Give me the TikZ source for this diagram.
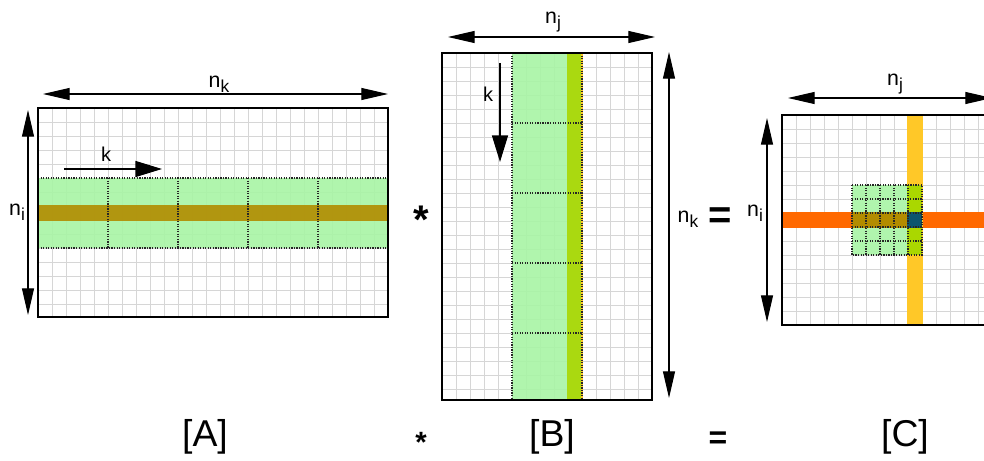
\documentclass[tikz,border=0pt]{standalone}
\usepackage{fontspec}
\setmainfont{Liberation Sans}
\usetikzlibrary{arrows.meta}
\definecolor{lgreen}{RGB}{168,245,165}
\definecolor{brn}{RGB}{178,140,0}
\definecolor{ygreen}{RGB}{170,215,0}
\definecolor{orng}{RGB}{255,105,0}
\definecolor{yllw}{RGB}{255,200,40}
\definecolor{tealc}{RGB}{10,85,110}
\newcommand\nsub[1]{n\raisebox{-0.45ex}{\fontsize{13}{14}\selectfont #1}}
\tikzset{
 dimarrow/.style={line width=0.8pt, {Triangle[length=20pt,width=9pt]}-{Triangle[length=20pt,width=9pt]}},
 karrow/.style={line width=1.1pt, -{Triangle[length=20pt,width=12pt]}},
 gridl/.style={black!16, line width=0.6pt},
 bandfill/.style={fill opacity=0.9},
 blocksep/.style={black!85, densely dotted, line width=0.9pt},
 frame/.style={draw=black, line width=2pt},
 lbl/.style={font=\fontsize{16}{18}\selectfont, inner sep=0pt},
 klbl/.style={font=\fontsize{15}{17}\selectfont, inner sep=0pt},
 big/.style={font=\fontsize{28}{32}\selectfont, inner sep=0pt},
}
\begin{document}
\begin{tikzpicture}[x=0.75pt,y=-0.75pt]
\useasboundingbox (0,0) rectangle (984,460);
\clip (0,0) rectangle (984,460);
\fill[white] (0,0) rectangle (984,460);
% ================= A =================
\foreach \x in {52,66,...,374} \draw[gridl] (\x,108) -- (\x,317);
\foreach \y in {122,136,...,304} \draw[gridl] (38,\y) -- (388,\y);
\fill[lgreen,bandfill] (38,178) rectangle (388,248);
\fill[brn,bandfill] (38,205) rectangle (388,221);
\foreach \x in {108,178,248,318} \draw[blocksep] (\x,178) -- (\x,248);
\draw[blocksep] (38,178) -- (388,178);
\draw[blocksep] (38,248) -- (388,248);
\draw[frame] (38,108) rectangle (388,317);
\coordinate (aK1) at (43,94); \coordinate (aK2) at (388,94);
\draw[dimarrow] (aK1) -- (aK2);
\node[lbl] (ank) at (219,84) {\nsub{k}};
\coordinate (aI1) at (28,110); \coordinate (aI2) at (28,315);
\draw[dimarrow] (aI1) -- (aI2);
\node[lbl] (ani) at (17,212) {\nsub{i}};
\coordinate (ak1) at (64,169); \coordinate (ak2) at (162,169);
\draw[karrow] (ak1) -- (ak2);
\node[klbl] (akl) at (106,154) {k};
\node[font=\fontsize{30}{34}\selectfont\bfseries, inner sep=0pt] (star1) at (421,220) {*};
% ================= B =================
\foreach \x in {456,470,...,638} \draw[gridl] (\x,53) -- (\x,400);
\foreach \y in {67,81,...,390} \draw[gridl] (442,\y) -- (652,\y);
\fill[lgreen,bandfill] (512,53) rectangle (582,400);
\fill[ygreen,bandfill] (567,53) rectangle (582,400);
\draw[yllw, line width=1pt] (582,53) -- (582,400);
\foreach \y in {123,193,263,333} \draw[blocksep] (512,\y) -- (582,\y);
\draw[blocksep] (512,53) -- (512,400);
\draw[blocksep] (582,53) -- (582,400);
\draw[frame] (442,53) rectangle (652,400);
\coordinate (bJ1) at (448,37); \coordinate (bJ2) at (655,37);
\draw[dimarrow] (bJ1) -- (bJ2);
\node[lbl] (bnj) at (553,22) {\nsub{j}};
\coordinate (bk1) at (500,63); \coordinate (bk2) at (500,162);
\draw[karrow] (bk1) -- (bk2);
\node[klbl] (bkl) at (488,94) {k};
\coordinate (bK1) at (669,52); \coordinate (bK2) at (669,398);
\draw[dimarrow] (bK1) -- (bK2);
\node[lbl] (bnk) at (688,219) {\nsub{k}};
\node[font=\fontsize{30}{34}\selectfont\bfseries, inner sep=0pt] (eq1) at (720,218) {=};
% ================= C =================
\foreach \x in {796,810,...,978} \draw[gridl] (\x,115) -- (\x,325);
\foreach \y in {129,143,...,315} \draw[gridl] (782,\y) -- (992,\y);
\fill[orng] (782,212) rectangle (992,228);
\fill[yllw] (907,115) rectangle (923,325);
\fill[lgreen,bandfill] (852,185) rectangle (922,255);
\fill[brn] (852,212) rectangle (907,228);
\fill[ygreen] (907,185) rectangle (922,255);
\fill[tealc] (907,212) rectangle (922,228);
\foreach \x in {866,880,894,908} \draw[blocksep] (\x,185) -- (\x,255);
\foreach \y in {199,213,227,241} \draw[blocksep] (852,\y) -- (922,\y);
\draw[blocksep] (852,185) rectangle (922,255);
\draw[frame] (782,115) rectangle (992,325);
\coordinate (cJ1) at (788,98); \coordinate (cJ2) at (992,98);
\draw[dimarrow] (cJ1) -- (cJ2);
\node[lbl] (cnj) at (895,84) {\nsub{j}};
\coordinate (cI1) at (767,118); \coordinate (cI2) at (767,322);
\draw[dimarrow] (cI1) -- (cI2);
\node[lbl] (cni) at (755,213) {\nsub{i}};
% ================= bottom labels =================
\node[big] (labA) at (205,437) {[A]};
\node[font=\fontsize{22}{26}\selectfont\bfseries, inner sep=0pt] (star2) at (421,442) {*};
\node[big] (labB) at (552,437) {[B]};
\node[font=\fontsize{24}{28}\selectfont\bfseries, inner sep=0pt] (eq2) at (718,440) {=};
\node[big] (labC) at (905,437) {[C]};
\end{tikzpicture}
\end{document}
